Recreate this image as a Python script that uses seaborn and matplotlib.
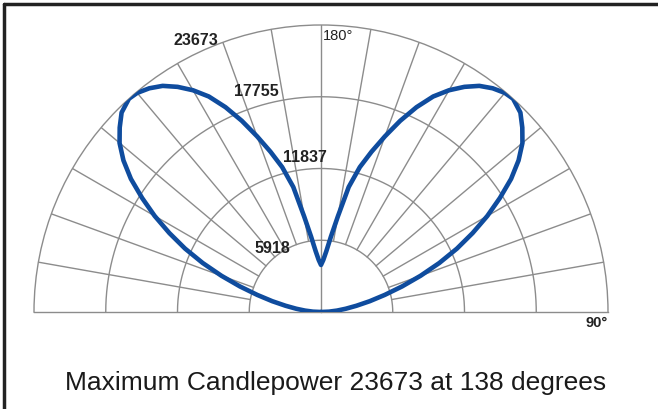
import matplotlib
matplotlib.use("Agg")
import matplotlib.pyplot as plt
from matplotlib.lines import Line2D
import numpy as np
import pandas as pd
import seaborn as sns

# photometric data: vertical angle (deg, 180 = straight up, 90 = horizontal) and candela
vert_angle = [180, 177.5, 175, 172.5, 170, 167.5, 165, 162.5, 160, 157.5, 155, 152.5,
              150, 147.5, 145, 142.5, 140, 138, 135, 132.5, 130, 127.5, 125, 122.5,
              120, 117.5, 115, 112.5, 110, 107.5, 105, 102.5, 100, 97.5, 95, 92.5, 90]
candela = [3880, 4290, 5030, 6270, 8000, 10560, 12370, 13860, 15420, 17070, 18640, 20040,
           21120, 22020, 22770, 23260, 23590, 23673, 23260, 22520, 21690, 20540, 19140, 17490,
           15840, 14100, 12370, 10560, 8740, 7010, 5440, 4120, 2970, 2060, 1320, 660, 0]

ring_values = [5918, 11837, 17755, 23673]
ring_labels = ["5918", "11837", "17755", "23673"]
title_text = "Maximum Candlepower 23673 at 138 degrees"

sns.set_style("white")
plt.rcParams["font.family"] = ["Liberation Sans", "DejaVu Sans"]

grid_col = "#8c8c8c"
blue = "#0f4c9e"
rmax = ring_values[-1]

# build one curve: left half mirrored, then right half
right = pd.DataFrame({"vert": vert_angle, "cd": candela})
right["theta"] = np.deg2rad(180 - right["vert"])
left = right[right["vert"] != 180].copy()
left["theta"] = -left["theta"]
curve = pd.concat([left.iloc[::-1], right], ignore_index=True)

W, H = 658, 409
cx, cy, R = 321, 312, 287  # centre and radius in pixels (from top-left)
fig = plt.figure(figsize=(W / 100, H / 100), dpi=100)
# square box, the half-disc gets centred in it vertically
ax = fig.add_axes([(cx - R) / W, (H - (cy - R / 2) - R) / H, 2 * R / W, 2 * R / H],
                  projection="polar")
ax.set_theta_zero_location("N")
ax.set_theta_direction(-1)
ax.set_thetamin(-90)
ax.set_thetamax(90)
ax.set_rlim(0, rmax)
ax.grid(False)
ax.set_xticks([])
ax.set_yticks([])
for s in ["polar", "start", "end"]:
    ax.spines[s].set_color(grid_col)
    ax.spines[s].set_linewidth(1.0)
ax.spines["inner"].set_visible(False)

# grid: rings, radial lines every 10 deg from first ring outwards, vertical axis
th = np.linspace(-np.pi / 2, np.pi / 2, 300)
for r in ring_values[:-1]:
    ax.plot(th, np.full_like(th, r), color=grid_col, lw=1.0, zorder=1)
for d in list(range(-80, 0, 10)) + list(range(10, 90, 10)):
    ax.plot([np.deg2rad(d)] * 2, [ring_values[0], rmax], color=grid_col, lw=1.0, zorder=1)
ax.plot([0, 0], [0, rmax], color=grid_col, lw=1.0, zorder=1)

sns.lineplot(data=curve, x="theta", y="cd", ax=ax, sort=False, estimator=None,
             color=blue, linewidth=3.3, zorder=5, solid_joinstyle="round")
ax.set_xlabel("")
ax.set_ylabel("")

# ring value labels
label_pos = [(-37.9, 6590), (-5.9, 12780), (-16.2, 18970), (-24.7, 24660)]
for (d, r), txt in zip(label_pos, ring_labels):
    ax.text(np.deg2rad(d), r, txt, ha="center", va="center", fontsize=11.5,
            fontweight="bold", color="#222222", zorder=6)

ax.annotate("180°", xy=(0, rmax), xytext=(1, -3), textcoords="offset points",
            ha="left", va="top", fontsize=10.5, color="#222222")
ax.annotate("90°", xy=(np.pi / 2, rmax), xytext=(0, -3), textcoords="offset points",
            ha="right", va="top", fontsize=10.5, fontweight="bold", color="#222222")

fig.text(0.51, 1 - 383 / 409, title_text, ha="center", va="center", fontsize=19, color="#1a1a1a")

# dark frame on top and left edges
fig.add_artist(Line2D([4 / W, 1], [1 - 4 / H, 1 - 4 / H], transform=fig.transFigure,
                      color="#222222", lw=2.5))
fig.add_artist(Line2D([4 / W, 4 / W], [0, 1 - 4 / H], transform=fig.transFigure,
                      color="#222222", lw=2.5))

fig.savefig("out.png", dpi=100)
